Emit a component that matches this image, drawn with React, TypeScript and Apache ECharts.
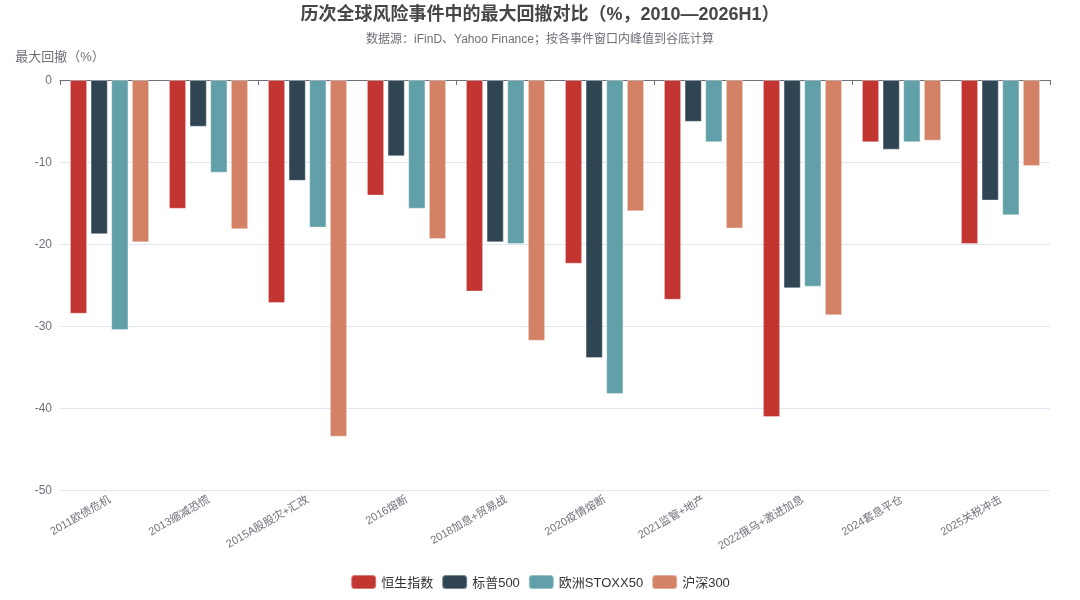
import { useRef, useEffect } from "react";
import * as echarts from "echarts";

const events = [
  "2011欧债危机",
  "2013缩减恐慌",
  "2015A股股灾+汇改",
  "2016熔断",
  "2018加息+贸易战",
  "2020疫情熔断",
  "2021监管+地产",
  "2022俄乌+激进加息",
  "2024套息平仓",
  "2025关税冲击",
];

const hsi = [-28.5, -15.7, -27.2, -14.1, -25.8, -22.4, -26.8, -41.1, -7.6, -20.0];
const spx = [-18.8, -5.7, -12.3, -9.3, -19.8, -33.9, -5.1, -25.4, -8.5, -14.7];
const stoxx = [-30.5, -11.3, -18.0, -15.7, -20.0, -38.3, -7.6, -25.2, -7.6, -16.5];
const csi = [-19.8, -18.2, -43.5, -19.4, -31.8, -16.0, -18.1, -28.7, -7.4, -10.5];

const seriesNames = ["恒生指数", "标普500", "欧洲STOXX50", "沪深300"];
const seriesColors = ["#c23531", "#2f4554", "#61a0a8", "#d48265"];

export default function App() {
  const chartRef = useRef<HTMLDivElement>(null);

  useEffect(() => {
    if (!chartRef.current) return;
    const chart = echarts.init(chartRef.current, null, { renderer: "svg" });
    const font = "'Liberation Sans', 'Noto Sans CJK SC', sans-serif";

    chart.setOption({
      animation: false,
      textStyle: { fontFamily: font },
      color: seriesColors,
      title: {
        text: "历次全球风险事件中的最大回撤对比（%，2010—2026H1）",
        subtext: "数据源：iFinD、Yahoo Finance；按各事件窗口内峰值到谷底计算",
        left: "center",
        top: 0,
        itemGap: 10,
        textStyle: { fontSize: 18, fontWeight: "bold", color: "#464646", fontFamily: font },
        subtextStyle: { fontSize: 12, color: "#6e7079", fontFamily: font },
      },
      legend: {
        bottom: 5,
        itemWidth: 25,
        itemHeight: 14,
        textStyle: { fontSize: 13, color: "#333", fontFamily: font },
        data: seriesNames,
      },
      grid: { left: 60, right: 30, top: 80, bottom: 110 },
      xAxis: [
        {
          type: "category",
          data: events,
          axisLine: { onZero: true, lineStyle: { color: "#6e7079" } },
          axisTick: { show: true },
          axisLabel: { show: false },
        },
        {
          type: "category",
          data: events,
          position: "bottom",
          axisLine: { show: false, onZero: false },
          axisTick: { show: false },
          axisLabel: { rotate: 30, color: "#6e7079", fontSize: 11, fontFamily: font },
        },
      ],
      yAxis: {
        type: "value",
        name: "最大回撤（%）",
        nameGap: 17,
        min: -50,
        max: 0,
        interval: 10,
        nameTextStyle: { color: "#6e7079", fontSize: 13, fontFamily: font },
        axisLabel: { color: "#6e7079", fontSize: 12, fontFamily: font },
        splitLine: { lineStyle: { color: "#e0e6f1" } },
      },
      series: [hsi, spx, stoxx, csi].map((d, i) => ({
        name: seriesNames[i],
        type: "bar",
        xAxisIndex: 0,
        data: d,
        barGap: "20%",
        barCategoryGap: "20%",
        itemStyle: { borderColor: "rgba(255,255,255,0.35)", borderWidth: 1 },
      })),
    });

    return () => {
      chart.dispose();
    };
  }, []);

  return (
    <div
      ref={chartRef}
      style={{ position: "fixed", top: 0, left: 0, width: "1080px", height: "600px" }}
    />
  );
}
